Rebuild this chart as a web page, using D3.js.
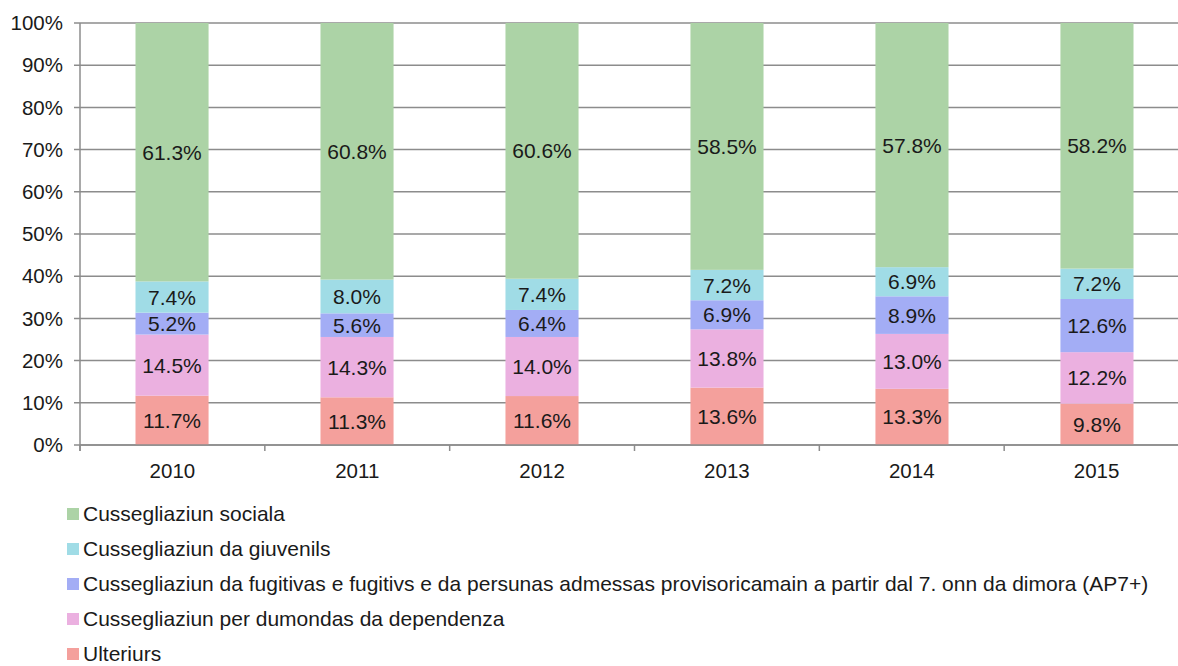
<!DOCTYPE html>
<html><head><meta charset="utf-8">
<script src="https://cdn.jsdelivr.net/npm/d3@7"></script>
<style>body{margin:0;background:#fff}svg{display:block;font-family:"Liberation Sans",Arial,sans-serif}</style>
</head><body><svg id="c" width="1178" height="666"></svg>
<script>
const years = ["2010","2011","2012","2013","2014","2015"];
const seriesNames = ["Ulteriurs","Cussegliaziun per dumondas da dependenza","Cussegliaziun da fugitivas e fugitivs e da persunas admessas provisoricamain a partir dal 7. onn da dimora (AP7+)","Cussegliaziun da giuvenils","Cussegliaziun sociala"];
const ulteriurs = [11.7,11.3,11.6,13.6,13.3,9.8];
const dependenza = [14.5,14.3,14.0,13.8,13.0,12.2];
const fugitivs = [5.2,5.6,6.4,6.9,8.9,12.6];
const giuvenils = [7.4,8.0,7.4,7.2,6.9,7.2];
const sociala = [61.3,60.8,60.6,58.5,57.8,58.2];
const yTicks = [0,10,20,30,40,50,60,70,80,90,100];
const colors = ["#f4a09c","#ebb0e0","#a3adf5","#a0dce6","#acd3a6"];

const seriesVals = [ulteriurs,dependenza,fugitivs,giuvenils,sociala];
const rows = years.map((y,i)=>{const o={year:y};seriesNames.forEach((n,k)=>o[n]=seriesVals[k][i]);return o;});
const stack = d3.stack().keys(seriesNames).offset(d3.stackOffsetExpand)(rows);

const svg = d3.select("#c");
const W=1178,H=666;
const m = {l:80,t:23,b:221};
const xEnd = 1189;
const x = d3.scaleBand().domain(years).range([m.l,xEnd]).paddingInner(0.605).paddingOuter(0.3);
const xb = d3.scaleBand().domain(years).range([m.l,xEnd]);
const y = d3.scaleLinear().domain([0,1]).range([H-m.b,m.t]);

svg.append("g").selectAll("line").data(yTicks).join("line")
  .attr("x1",m.l-6).attr("x2",W).attr("y1",d=>y(d/100)).attr("y2",d=>y(d/100))
  .attr("stroke","#8c8c8c").attr("stroke-width",1.5);
svg.append("g").selectAll("text").data(yTicks).join("text")
  .attr("x",m.l-17).attr("y",d=>y(d/100)).attr("dy","0.35em").attr("text-anchor","end")
  .attr("font-size",20.5).attr("fill","#1a1a1a").text(d=>d+"%");
const g = svg.append("g");
stack.forEach((s,k)=>{
  g.selectAll(null).data(s).join("rect")
    .attr("x",d=>x(d.data.year)).attr("width",x.bandwidth())
    .attr("y",d=>y(d[1])).attr("height",d=>y(d[0])-y(d[1]))
    .attr("fill",colors[k]);
  g.selectAll(null).data(s).join("text")
    .attr("x",d=>x(d.data.year)+x.bandwidth()/2).attr("y",d=>(y(d[0])+y(d[1]))/2).attr("dy","0.36em")
    .attr("text-anchor","middle").attr("font-size",21).attr("fill","#1a1a1a")
    .text((d,i)=>seriesVals[k][i].toFixed(1)+"%");
});
svg.append("line").attr("x1",m.l).attr("x2",m.l).attr("y1",m.t).attr("y2",y(0)+6).attr("stroke","#8c8c8c").attr("stroke-width",1.5);
const xa = svg.append("g").attr("transform",`translate(0,${y(0)})`);
xa.append("line").attr("x1",m.l).attr("x2",W).attr("stroke","#8c8c8c").attr("stroke-width",1.5);
const bounds = years.map(yy=>xb(yy));
xa.selectAll(".tk").data(bounds).join("line").attr("class","tk")
  .attr("x1",d=>d).attr("x2",d=>d).attr("y1",0).attr("y2",6).attr("stroke","#8c8c8c").attr("stroke-width",1.5);
xa.selectAll("text").data(years).join("text")
  .attr("x",d=>xb(d)+xb.bandwidth()/2).attr("y",26).attr("dy","0.35em").attr("text-anchor","middle")
  .attr("font-size",20.5).attr("fill","#1a1a1a").text(d=>d);
const legOrder = seriesNames.map((n,k)=>({n,c:colors[k]})).reverse();
const lg = svg.append("g").selectAll("g").data(legOrder).join("g")
  .attr("transform",(d,i)=>`translate(67,${514+i*35})`);
lg.append("rect").attr("x",0).attr("y",-6).attr("width",12).attr("height",12).attr("fill",d=>d.c);
lg.append("text").attr("x",16).attr("dy","0.35em").attr("font-size",21).attr("fill","#1a1a1a").text(d=>d.n);
</script></body></html>
